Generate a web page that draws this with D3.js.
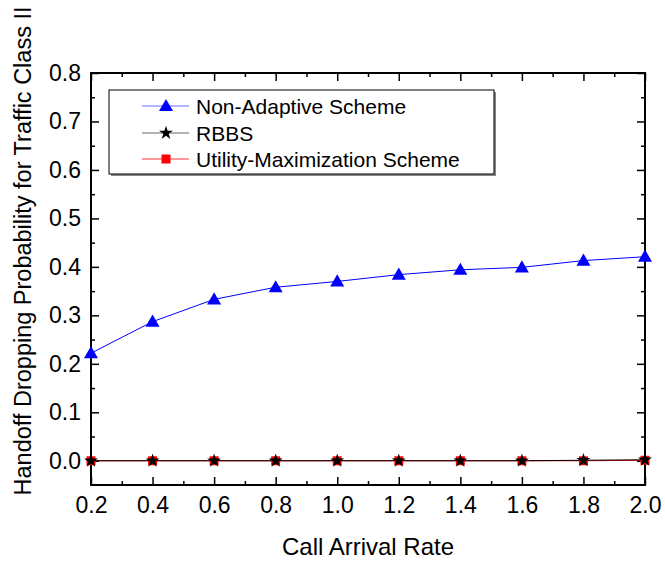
<!DOCTYPE html>
<html>
<head>
<meta charset="utf-8">
<script src="https://cdn.jsdelivr.net/npm/d3@7"></script>
<style>
  html, body { margin: 0; padding: 0; background: #fff; }
  svg { display: block; font-family: Arial, "Liberation Sans", sans-serif; }
</style>
</head>
<body>
<svg id="chart" width="665" height="561"></svg>
<script>
// Call arrival rates on the x axis
const arrivalRates = [0.2, 0.4, 0.6, 0.8, 1.0, 1.2, 1.4, 1.6, 1.8, 2.0];
// Handoff dropping probability for traffic class II, per scheme
const nonAdaptive = [0.222, 0.287, 0.333, 0.358, 0.370, 0.384, 0.394, 0.399, 0.413, 0.421];
const rbbs        = [0, 0, 0, 0, 0, 0, 0, 0, 0.001, 0.002];
const utilityMax  = [0, 0, 0, 0, 0, 0, 0, 0, 0, 0.001];
const seriesNames = ["Non-Adaptive Scheme", "RBBS", "Utility-Maximization Scheme"];
const xTicks = [0.2, 0.4, 0.6, 0.8, 1.0, 1.2, 1.4, 1.6, 1.8, 2.0];
const yTicks = [0.0, 0.1, 0.2, 0.3, 0.4, 0.5, 0.6, 0.7, 0.8];

const svg = d3.select("#chart");
const L = 91, R = 645, T = 73, B = 485;

const x = d3.scaleLinear().domain([0.2, 2.0]).range([L, R]);
const y = d3.scaleLinear().domain([-0.05, 0.8]).range([B, T]);

const series = [
  { name: seriesNames[0], values: nonAdaptive, line: "#0000ff", fill: "#0000ff", marker: "triangle", legendLine: "#6b6bff" },
  { name: seriesNames[1], values: rbbs, line: "#000000", fill: "#000000", marker: "star", legendLine: "#666666" },
  { name: seriesNames[2], values: utilityMax, line: "#ff0000", fill: "#ff0000", marker: "square", legendLine: "#ff3333" }
];

function markerPath(kind) {
  if (kind === "triangle") return d3.symbol(d3.symbolTriangle, 85)();
  if (kind === "star") return d3.symbol(d3.symbolStar, 60)();
  return d3.symbol(d3.symbolSquare, 81)();
}

// Axes with inward ticks, mirrored on top and right
const xMinor = d3.range(0.3, 2.0, 0.2);
const yMinor = d3.range(-0.05, 0.8, 0.1).filter(v => v > -0.04);

function styleTicks(g) {
  g.select(".domain").remove();
  g.selectAll("line").attr("stroke-width", 1.5);
  return g;
}

const gx = svg.append("g").attr("transform", `translate(0,${B})`)
  .call(d3.axisBottom(x).tickValues(xTicks).tickFormat(d3.format(".1f")).tickSize(-8).tickPadding(12));
styleTicks(gx);
gx.selectAll("text").attr("font-size", 23).attr("fill", "#000").attr("dy", "0.71em");

styleTicks(svg.append("g").attr("transform", `translate(0,${B})`)
  .call(d3.axisBottom(x).tickValues(xMinor).tickFormat("").tickSize(-4)));
styleTicks(svg.append("g").attr("transform", `translate(0,${T})`)
  .call(d3.axisTop(x).tickValues(xTicks).tickFormat("").tickSize(-8)));
styleTicks(svg.append("g").attr("transform", `translate(0,${T})`)
  .call(d3.axisTop(x).tickValues(xMinor).tickFormat("").tickSize(-4)));

const gy = svg.append("g").attr("transform", `translate(${L},0)`)
  .call(d3.axisLeft(y).tickValues(yTicks).tickFormat(d3.format(".1f")).tickSize(-8).tickPadding(10));
styleTicks(gy);
gy.selectAll("text").attr("font-size", 23).attr("fill", "#000");

styleTicks(svg.append("g").attr("transform", `translate(${L},0)`)
  .call(d3.axisLeft(y).tickValues(yMinor).tickFormat("").tickSize(-4)));
styleTicks(svg.append("g").attr("transform", `translate(${R},0)`)
  .call(d3.axisRight(y).tickValues(yTicks).tickFormat("").tickSize(-8)));
styleTicks(svg.append("g").attr("transform", `translate(${R},0)`)
  .call(d3.axisRight(y).tickValues(yMinor).tickFormat("").tickSize(-4)));

// Plot frame
svg.append("rect").attr("x", L).attr("y", T).attr("width", R - L).attr("height", B - T)
  .attr("fill", "none").attr("stroke", "#000").attr("stroke-width", 2);

// Series lines and markers (drawn last-to-first so the triangles sit on top)
const line = d3.line().x((d, i) => x(arrivalRates[i])).y(d => y(d));
const drawOrder = [2, 1, 0];
drawOrder.forEach(k => {
  const s = series[k];
  svg.append("path").datum(s.values).attr("d", line)
    .attr("fill", "none").attr("stroke", s.line).attr("stroke-width", 1);
});
drawOrder.forEach(k => {
  const s = series[k];
  svg.append("g").selectAll("path").data(s.values).join("path")
    .attr("d", markerPath(s.marker))
    .attr("transform", (d, i) => `translate(${x(arrivalRates[i])},${y(d) + (s.marker === "triangle" ? 1 : 0)})`)
    .attr("fill", s.fill);
});

// Legend box with a soft shadow
const lg = svg.append("g");
lg.append("rect").attr("x", 111).attr("y", 92).attr("width", 385).attr("height", 84).attr("fill", "#888");
lg.append("rect").attr("x", 109).attr("y", 90).attr("width", 385).attr("height", 84)
  .attr("fill", "#fff").attr("stroke", "#000").attr("stroke-width", 1);
const rowsY = [106, 133, 159];
series.forEach((s, i) => {
  const ry = rowsY[i];
  lg.append("line").attr("x1", 142).attr("x2", 189).attr("y1", ry).attr("y2", ry)
    .attr("stroke", s.legendLine).attr("stroke-width", 1);
  lg.append("path").attr("d", markerPath(s.marker))
    .attr("transform", `translate(166,${ry + (s.marker === "triangle" ? 1 : 0)})`).attr("fill", s.fill);
  lg.append("text").attr("x", 196).attr("y", ry).attr("dy", "0.36em")
    .attr("font-size", 21).attr("fill", "#000").text(s.name);
});

// Axis titles
svg.append("text").attr("x", (L + R) / 2).attr("y", 555).attr("text-anchor", "middle")
  .attr("font-size", 24).attr("fill", "#000").text("Call Arrival Rate");
svg.append("text").attr("transform", `translate(31,251) rotate(-90)`)
  .attr("text-anchor", "middle").attr("font-size", 23.5).attr("fill", "#000")
  .text("Handoff Dropping Probability for Traffic Class II");
</script>
</body>
</html>
